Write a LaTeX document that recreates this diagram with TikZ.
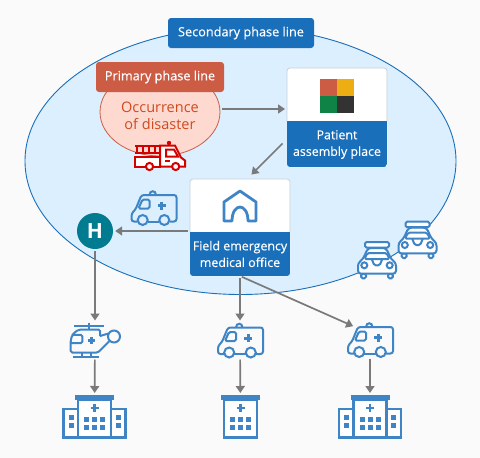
\documentclass[tikz,border=0pt]{standalone}
\usepackage{fontspec}
\setmainfont{Open Sans}
\newfontfamily\labelfont[FakeBold=0.35]{Open Sans}
\usetikzlibrary{positioning,arrows.meta,calc,shapes.geometric}
\definecolor{cblue}{HTML}{1A6FBA}
\definecolor{cicon}{HTML}{3F85C5}
\definecolor{czone}{HTML}{DCEFFF}
\definecolor{cback}{HTML}{FAFAFA}
\definecolor{cbrick}{HTML}{CD5C45}
\definecolor{tbrick}{HTML}{FDD9D0}
\definecolor{ctext}{HTML}{D04A20}
\definecolor{ctruck}{HTML}{D40000}
\definecolor{cteal}{HTML}{007B8F}
\definecolor{cgray}{HTML}{7A7A7A}
\definecolor{cedge}{HTML}{C9D0D6}
\definecolor{sqa}{HTML}{CD5C45}
\definecolor{sqb}{HTML}{EDAE14}
\definecolor{sqc}{HTML}{0F8246}
\definecolor{sqd}{HTML}{333333}

\tikzset{
  pics/ambulance/.style={code={
    \draw[icon, rounded corners=2.5pt] (-16,14) -- (-22,14) -- (-22,6) -- (-18,2) -- (-12,-12.5) -- (23,-12.5) -- (23,14) -- (16,14);
    \draw[icon] (-5.6,14) -- (5.6,14);
    \draw[icon] (-10.8,12.5) circle (5) (10.8,12.5) circle (5);
    \draw[icon] (-11,-8) -- (-4,-8) -- (-4,1) -- (-15,1) -- cycle;
    \draw[icon] (-4,-12.5) .. controls (-4,-17.5) and (2.5,-17.5) .. (2.5,-12.5);
    \draw[iconfill] (4,-1.8) -- (12.4,-1.8) (8.2,-6) -- (8.2,2.4);
  }},
  pics/hospitalcore/.style={code={
    \fill[cicon] (-19.5,-22) rectangle (19.5,-17);
    \draw[iconbold, fill=white] (-16.5,-17) rectangle (16.5,20.7);
    \draw[iconfill] (-4,-9) -- (4,-9) (0,-13) -- (0,-5);
    \foreach \wx in {-10.5,-2.5,5.5} \foreach \wy in {0,8}
      \fill[cicon] (\wx,\wy) rectangle ++(5,5);
  }},
  pics/hospital/.style={code={
    \draw[iconbold, fill=white] (-31,-8) rectangle (-16.5,20.7);
    \draw[iconbold, fill=white] (16.5,-8) rectangle (31,20.7);
    \pic at (0,0) {hospitalcore};
    \foreach \wy in {-2,6} {
      \fill[cicon] (-26,\wy) rectangle ++(5,5);
      \fill[cicon] (21,\wy) rectangle ++(5,5);
    }
  }},
  pics/helicopter/.style={code={
    \draw[icon] (-21,-14.5) -- (9,-14.5) (-6,-17.5) -- (-6,-10.5);
    \draw[icon] (5,-4) -- (5,-10.5) -- (-13,-10.5) .. controls (-20,-10) and (-24.3,-4) .. (-24.3,3.2) -- (-24.3,12.5) -- (3,12.5) -- (14.5,1);
    \draw[icon] (5,-4) -- (13.5,-6.5);
    \draw[icon] (19,-3.5) circle (6);
    \draw[icon] (-23.3,-5.2) -- (-12.7,-5.2) -- (-12.7,3.2) -- (-24.3,3.2);
    \draw[iconfill] (-7.2,0.5) -- (-0.2,0.5) (-3.7,-3) -- (-3.7,4);
    \draw[icon] (-21.7,16.5) -- (4.3,16.5) (-13.3,12.5) -- (-13.3,16.5) (-4.3,12.5) -- (-4.3,16.5);
  }},
  pics/policecar/.style={code={
    \draw[icon, fill=white] (-15.8,13.7) rectangle (-11,18.3) (11,13.7) rectangle (15.8,18.3);
    \draw[icon, fill=white, rounded corners=3pt] (-9,-12) -- (9,-12) -- (14,-1) -- (19,3) -- (19,13.7) -- (-19,13.7) -- (-19,3) -- (-14,-1) -- cycle;
    \draw[icon, fill=white] (-12,-18) rectangle (12,-12.5);
    \draw[icon] (-9.5,-7) -- (9.5,-7) -- (12.5,-1) -- (-12.5,-1) -- cycle;
    \draw[icon] (-12.7,5.3) circle (3) (12.7,5.3) circle (3);
    \draw[icon] (-5.3,-1) -- (-2.7,5.3) -- (2.7,5.3) -- (5.3,-1);
  }},
  pics/firetruck/.style={code={
    \draw[truck, fill=white] (-25,4) rectangle (0,14);
    \draw[truck, fill=white] (0,14) -- (0,-7) -- (15,-7) -- (21,5) -- (25,8) -- (25,14) -- cycle;
    \draw[truck] (-25,-7) -- (0,-7) (-25,0) -- (0,0);
    \foreach \rx in {-23,-17,-11,-5} \draw[truck] (\rx,-7) -- (\rx,0);
    \draw[truck] (6,-3) -- (14,-3) -- (18,4) -- (6,4) -- cycle;
    \draw[truck] (5,8) -- (10,8);
    \fill[ctruck] (9,-9.5) circle (2.2);
    \draw[truck, fill=white] (-10.5,14) circle (3.6) (15.7,14) circle (3.6);
  }}
}

\begin{document}
\begin{tikzpicture}[x=1pt, y=-1pt,
  icon/.style={draw=cicon, line width=2pt, rounded corners=1.5pt},
  iconbold/.style={draw=cicon, line width=2.8pt},
  iconfill/.style={draw=cicon, line width=2.8pt},
  truck/.style={draw=ctruck, line width=2pt},
  iconslot/.style={rectangle, inner sep=0pt, outer sep=0pt},
  tag/.style={rectangle, rounded corners=3pt, inner sep=0pt, minimum height=30pt,
              text=white, font=\labelfont\fontsize{12.7}{15}\selectfont},
  card/.style={rectangle, rounded corners=3pt, inner sep=0pt, outer sep=0pt,
               fill=white, minimum width=100pt,
               path picture={\fill[cblue, sharp corners] (path picture bounding box.south west)
                 rectangle ([yshift=#1]path picture bounding box.east |- path picture bounding box.south);}},
  cardedge/.style={draw=cedge, line width=0.8pt, rounded corners=3pt},
  cardtext/.style={align=center, text=white, inner sep=0pt,
                   font=\labelfont\fontsize{12.4}{16.6}\selectfont},
  arr/.style={-{Triangle[length=7pt,width=9pt]}, draw=cgray, line width=1.7pt,
              shorten >=2pt, shorten <=2pt}
]
\useasboundingbox (0,0) rectangle (480,458);
\fill[cback] (0,0) rectangle (480,458);

% --- the two phase areas ---
\node[ellipse, draw=cblue, fill=czone, line width=0.9pt, inner sep=0pt,
      minimum width=431pt, minimum height=267pt] (zone) at (240.5,161) {};
\node[tag, fill=cblue, minimum width=146pt] (secondary) at (241,33) {Secondary phase line};
\node[ellipse, draw=cbrick, fill=tbrick, line width=0.8pt, inner sep=0pt,
      minimum width=120pt, minimum height=88pt] (disaster) at (160,112) {};
\node[tag, fill=cbrick, minimum width=128pt] (primary) at (160,77) {Primary phase line};
\node[text=ctext, align=center, inner sep=0pt, font=\fontsize{14.5}{17}\selectfont]
  (disastertext) at (160,116) {Occurrence\\of disaster};
\pic at (160,152.5) {firetruck};

% --- the two cards ---
\node[card=46pt, minimum height=99pt] (patient) at (337,117.5) {};
\draw[cardedge] ($(patient.south west)+(0,-46)$) -- (patient.north west) -- (patient.north east) -- ($(patient.south east)+(0,-46)$);
\node[cardtext] (patienttext) at (337,144.5) {Patient\\assembly place};
\fill[sqa] (320,79) rectangle (337,96);
\fill[sqb] (337,79) rectangle (354,96);
\fill[sqc] (320,96) rectangle (337,113);
\fill[sqd] (337,96) rectangle (354,113);

\node[card=44pt, minimum height=97pt] (field) at (240,227.5) {};
\draw[cardedge] ($(field.south west)+(0,-44)$) -- (field.north west) -- (field.north east) -- ($(field.south east)+(0,-44)$);
\node[cardtext] (fieldtext) at (240,254) {Field emergency\\medical office};
\draw[iconbold, line join=round] (232,221) .. controls (232,212) and (236,207) .. (240,207)
  .. controls (244,207) and (248,212) .. (248,221) -- (256,221) -- (256,202) -- (240,191)
  -- (224,202) -- (224,221) -- cycle;

% --- icons inside the area ---
\node[circle, fill=cteal, minimum size=36pt, inner sep=0pt, text=white,
      font=\bfseries\fontsize{21}{21}\selectfont] (hmark) at (95,231) {H};
\pic at (153.5,207.5) {ambulance};
\pic at (377,260) {policecar};
\pic at (417.5,239.7) {policecar};

% --- transport row ---
\node[iconslot, minimum width=50pt, minimum height=35pt] (heli) at (95,340) {};
\node[iconslot, minimum width=45pt, minimum height=35pt] (ambmid) at (240,340) {};
\node[iconslot, minimum width=45pt, minimum height=35pt] (ambright) at (370,339.5) {};
\pic at (heli) {helicopter};
\pic at (ambmid) {ambulance};
\pic at (ambright) {ambulance};
\coordinate (ambrightin) at (355,327);

% --- hospital row ---
\node[iconslot, minimum width=65pt, minimum height=44pt] (hospleft) at (94.5,417) {};
\node[iconslot, minimum width=39pt, minimum height=44pt] (hospmid) at (240.5,417) {};
\node[iconslot, minimum width=65pt, minimum height=44pt] (hospright) at (370,417) {};
\pic at (hospleft) {hospital};
\pic at (hospmid) {hospitalcore};
\pic at (hospright) {hospital};

% --- connectors ---
\draw[arr] ($(disaster.east)+(0,-3)$) -- ($(patient.west)+(0,-8.5)$);
\draw[arr] ($(patient.west)+(-3,24.5)$) -- ($(field.north)+(10,-3)$);
\draw[arr] (field.west |- hmark) -- (hmark);
\draw[arr] (hmark) -- (heli);
\draw[arr] (field.south) -- (ambmid);
\draw[arr] (field.south) -- (ambrightin);
\draw[arr] (heli) -- (hospleft);
\draw[arr] (ambmid) -- (hospmid);
\draw[arr] (ambright) -- (hospright);

\end{tikzpicture}
\end{document}
